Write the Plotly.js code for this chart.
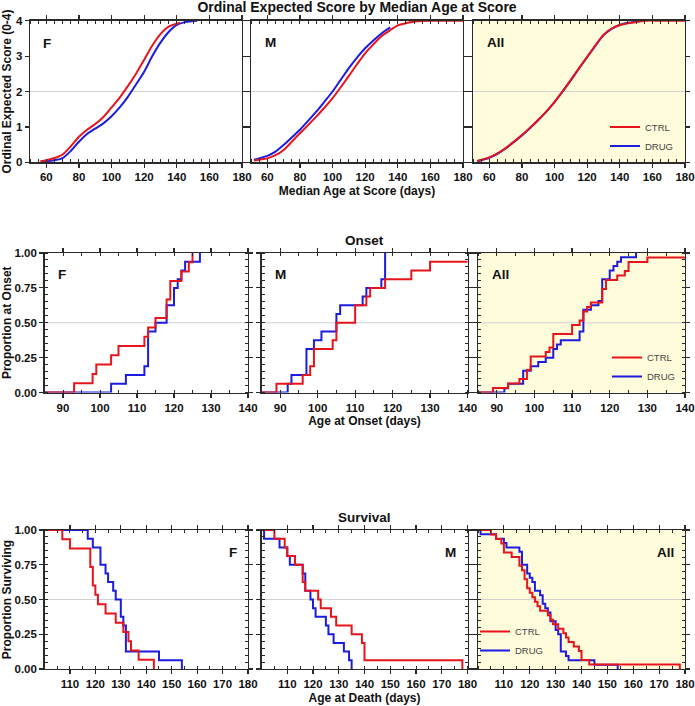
<!DOCTYPE html>
<html><head><meta charset="utf-8">
<script src="https://cdn.plot.ly/plotly-3.0.1.min.js"></script>
<style>html,body{margin:0;padding:0;background:#fff}#chart{width:695px;height:706px}</style>
</head><body><div id="chart"></div>
<script>
// ---------------- data ----------------
const groups = ['CTRL', 'DRUG'];
const panels = ['F', 'M', 'All'];

// Row 1: ordinal expected score vs median age at score (smooth curves)
const scoreAgeF_CTRL = [56.5,60,65,70,75,80,85,90,95,100,105,110,115,120,125,130,135,142];
const scoreF_CTRL    = [0.03,0.06,0.12,0.22,0.45,0.72,0.92,1.08,1.28,1.55,1.83,2.15,2.5,2.9,3.3,3.62,3.83,3.94];
const scoreAgeF_DRUG = [56.5,60,65,70,75,80,85,90,95,100,105,110,115,120,125,130,135,140,145,152.5];
const scoreF_DRUG    = [0.02,0.03,0.06,0.12,0.32,0.58,0.8,0.95,1.1,1.3,1.55,1.85,2.2,2.56,3.0,3.38,3.68,3.88,3.96,4.0];
const scoreAgeM_CTRL = [51.8,55,60,65,70,75,80,85,90,95,100,105,110,115,120,125,130,135,140,145,150,155,160,170,180];
const scoreM_CTRL    = [0.05,0.07,0.11,0.2,0.35,0.58,0.82,1.05,1.29,1.54,1.81,2.12,2.44,2.77,3.08,3.33,3.56,3.72,3.87,3.93,3.97,3.99,4.0,4.0,4.0];
const scoreAgeM_DRUG = [51.8,55,60,65,70,75,80,85,90,95,100,105,110,115,120,125,130,135.4];
const scoreM_DRUG    = [0.07,0.11,0.18,0.3,0.49,0.7,0.92,1.17,1.43,1.71,2.0,2.33,2.66,2.96,3.22,3.44,3.64,3.81];
const scoreAgeAll_CTRL = [52.5,55,60,65,70,75,80,85,90,95,100,105,110,115,120,125,130,135,140,145,150,156,165,180];
const scoreAll_CTRL    = [0.04,0.07,0.14,0.25,0.4,0.58,0.77,0.98,1.2,1.44,1.71,2.01,2.33,2.66,2.98,3.3,3.6,3.78,3.88,3.93,3.96,4.0,4.0,4.0];
const scoreAgeAll_DRUG = [52.5,55,60,65,70,75,80,85,90,95,100,105,110,115,120,125,130,135,140,145,152];
const scoreAll_DRUG    = [0.03,0.06,0.13,0.24,0.39,0.57,0.76,0.97,1.19,1.43,1.70,2.00,2.32,2.65,2.97,3.29,3.59,3.77,3.88,3.94,3.98];

// Row 2: age at onset (days), one value per animal
const onsetF_CTRL = [93,98,99,103,105,112,113,115,118,118,119,119,122,124,125];
const onsetF_DRUG = [103,107,112,113,113,113,113,115,118,118,120,120,121,122,123,127];
const onsetM_CTRL = [89,96,98,99,99,104,105,105,110,110,113,114,118,125,130,150];
const onsetM_DRUG = [92,93,97,97,97,99,101,105,105,106,112,113,117,118,118,118];

// Row 3: age at death (days), one value per animal
const deathF_CTRL = [107,110,118,118,119,119,120,121,124,128,131,133,134,137,143];
const deathF_DRUG = [117,119,122,122,124,125,127,128,130,130,131,132,132,132,145,154];
const deathM_CTRL = [105,109,110,113,116,116,117,122,123,127,129,135,139,140,140,178];
const deathM_DRUG = [101,107,110,111,116,117,117,119,120,121,125,126,128,132,134,135];

// tick labels
const scoreXTicks = [60,80,100,120,140,160,180];
const scoreYTicks = [0,1,2,3,4];
const onsetXTicks = [90,100,110,120,130,140];
const deathXTicks = [110,120,130,140,150,160,170,180];
const propYTicks  = [0,0.25,0.5,0.75,1];

// ---------------- helpers ----------------
const W = 695, H = 706;
const fx = p => p / W;
const fy = p => 1 - p / H;
const FONT = 'Liberation Sans, Arial, Helvetica, sans-serif';
const RED = '#E8141C', BLUE = '#1C1CE0';
const YELLOW = '#FFFCDC';
const AXC = '#2a2a2a';

function cumSteps(times, x0, surv) {
  const t = times.slice().sort((a, b) => a - b);
  const n = t.length;
  const xs = [x0], ys = [surv ? 1 : 0];
  let cum = 0;
  for (let i = 0; i < n; i++) {
    cum++;
    if (i + 1 < n && t[i + 1] === t[i]) continue;
    xs.push(t[i]);
    ys.push(surv ? 1 - cum / n : cum / n);
  }
  return {x: xs, y: ys};
}

const traces = [];
function addPair(ctrl, drug, xa, ya, legendId, shape) {
  const common = {type: 'scatter', mode: 'lines', xaxis: xa, yaxis: ya, hoverinfo: 'skip'};
  const show = !!legendId;
  traces.push(Object.assign({}, common, {x: drug.x, y: drug.y, name: groups[1],
    line: {color: BLUE, width: 2, shape: shape, smoothing: 0.8}, showlegend: show,
    legend: legendId || 'legend', legendrank: 2}));
  traces.push(Object.assign({}, common, {x: ctrl.x, y: ctrl.y, name: groups[0],
    line: {color: RED, width: 2, shape: shape, smoothing: 0.8}, showlegend: show,
    legend: legendId || 'legend', legendrank: 1}));
}

// Row 1
addPair({x: scoreAgeF_CTRL, y: scoreF_CTRL}, {x: scoreAgeF_DRUG, y: scoreF_DRUG}, 'x', 'y', null, 'spline');
addPair({x: scoreAgeM_CTRL, y: scoreM_CTRL}, {x: scoreAgeM_DRUG, y: scoreM_DRUG}, 'x2', 'y2', null, 'spline');
addPair({x: scoreAgeAll_CTRL, y: scoreAll_CTRL}, {x: scoreAgeAll_DRUG, y: scoreAll_DRUG}, 'x3', 'y3', 'legend', 'spline');
// Row 2
addPair(cumSteps(onsetF_CTRL, 85, false), cumSteps(onsetF_DRUG, 85, false), 'x4', 'y4', null, 'hv');
addPair(cumSteps(onsetM_CTRL, 85, false), cumSteps(onsetM_DRUG, 85, false), 'x5', 'y5', null, 'hv');
addPair(cumSteps(onsetF_CTRL.concat(onsetM_CTRL), 85, false), cumSteps(onsetF_DRUG.concat(onsetM_DRUG), 85, false), 'x6', 'y6', 'legend2', 'hv');
// Row 3
addPair(cumSteps(deathF_CTRL, 100, true), cumSteps(deathF_DRUG, 100, true), 'x7', 'y7', null, 'hv');
addPair(cumSteps(deathM_CTRL, 100, true), cumSteps(deathM_DRUG, 100, true), 'x8', 'y8', null, 'hv');
addPair(cumSteps(deathF_CTRL.concat(deathM_CTRL), 100, true), cumSteps(deathF_DRUG.concat(deathM_DRUG), 100, true), 'x9', 'y9', 'legend3', 'hv');

// ---------------- layout ----------------
const tickFont = {family: FONT, size: 11.5, color: '#111', weight: 'bold'};
const titleFont = {family: FONT, size: 12, color: '#111', weight: 'bold'};

function axis(dom, range, tickvals, minorDtick, minorTick0, extra) {
  const a = {
    domain: dom, range: range, showline: true, linecolor: AXC, linewidth: 1.3, mirror: 'ticks',
    ticks: 'outside', ticklen: 4, tickwidth: 1.2, tickcolor: AXC, tickfont: tickFont,
    showgrid: false, zeroline: false, fixedrange: true, tickmode: 'array', tickvals: tickvals
  };
  if (minorDtick) a.minor = {ticks: 'inside', ticklen: 3, tickwidth: 1, tickcolor: AXC,
    tickmode: 'linear', tick0: minorTick0, dtick: minorDtick, showgrid: false};
  return Object.assign(a, extra || {});
}

const r1cols = [[30, 242], [251, 463], [473, 685]];
const r23cols = [[44.5, 248], [261.5, 467.5], [478, 685]];
const rowsY = [[20.7, 162.3], [253, 392.5], [530, 669]];
const dx = c => [fx(c[0]), fx(c[1])];
const dy = r => [fy(r[1]), fy(r[0])];

const layout = {
  width: W, height: H, margin: {l: 0, r: 0, t: 0, b: 0},
  paper_bgcolor: '#fff', plot_bgcolor: 'rgba(0,0,0,0)',
  font: {family: FONT, color: '#111'},
  title: {text: 'Ordinal Expected Score by Median Age at Score', x: fx(357), xanchor: 'center',
    y: fy(7), yanchor: 'middle', font: {family: FONT, size: 14, color: '#111', weight: 'bold'}},
  showlegend: true,
  shapes: [], annotations: []
};

const rowDefs = [
  {cols: r1cols, xr: [50, 180], xt: scoreXTicks, xm: 5, xm0: 0, yr: [0, 4], yt: scoreYTicks, ym: null,
   xtitle: 'Median Age at Score (days)', ytitle: 'Ordinal Expected Score (0-4)', ref: 2, yfmt: ''},
  {cols: r23cols, xr: [85, 140], xt: onsetXTicks, xm: 5, xm0: 0, yr: [0, 1], yt: propYTicks, ym: 0.05,
   xtitle: 'Age at Onset (days)', ytitle: 'Proportion at Onset', ref: 0.5, yfmt: '.2f'},
  {cols: r23cols, xr: [100, 180], xt: deathXTicks, xm: 5, xm0: 0, yr: [0, 1], yt: propYTicks, ym: 0.05,
   xtitle: 'Age at Death (days)', ytitle: 'Proportion Surviving', ref: 0.5, yfmt: '.2f'}
];

rowDefs.forEach((rd, ri) => {
  rd.cols.forEach((c, ci) => {
    const k = ri * 3 + ci + 1;
    const xn = 'xaxis' + (k === 1 ? '' : k), yn = 'yaxis' + (k === 1 ? '' : k);
    const xid = 'x' + (k === 1 ? '' : k), yid = 'y' + (k === 1 ? '' : k);
    const xa = axis(dx(c), rd.xr, rd.xt, rd.xm, rd.xm0, {anchor: yid});
    if (ci === 1) xa.title = {text: rd.xtitle, font: titleFont, standoff: 4};
    const ya = axis(dy(rowsY[ri]), rd.yr, rd.yt, rd.ym, 0, {anchor: xid, tickformat: rd.yfmt,
      showticklabels: ci === 0});
    if (ci === 0) ya.title = {text: rd.ytitle, font: titleFont, standoff: ri === 0 ? 8 : 2};
    layout[xn] = xa; layout[yn] = ya;
    if (ci === 2) layout.shapes.push({type: 'rect', xref: xid + ' domain', yref: yid + ' domain',
      x0: 0, x1: 1, y0: 0, y1: 1, fillcolor: YELLOW, line: {width: 0}, layer: 'below'});
    layout.shapes.push({type: 'line', xref: xid + ' domain', yref: yid, x0: 0, x1: 1,
      y0: rd.ref, y1: rd.ref, line: {color: '#d2d2d2', width: 1}, layer: 'below'});
  });
});

// panel labels
const letterFont = {family: FONT, size: 13.5, color: '#111', weight: 'bold'};
const letterPos = [
  [47, 43], [270, 42], [495, 42],
  [62, 275], [280, 274], [500, 275],
  [233, 552], [450, 552], [665, 552]
];
letterPos.forEach((p, i) => {
  layout.annotations.push({text: panels[i % 3], x: fx(p[0]), y: fy(p[1]), xref: 'paper', yref: 'paper',
    xanchor: 'center', yanchor: 'middle', showarrow: false, font: letterFont});
});
// row titles
const rowTitleFont = {family: FONT, size: 13.5, color: '#111', weight: 'bold'};
layout.annotations.push({text: 'Onset', x: fx(365), y: fy(240), xref: 'paper', yref: 'paper',
  xanchor: 'center', yanchor: 'middle', showarrow: false, font: rowTitleFont});
layout.annotations.push({text: 'Survival', x: fx(365), y: fy(517), xref: 'paper', yref: 'paper',
  xanchor: 'center', yanchor: 'middle', showarrow: false, font: rowTitleFont});

// legends
const legFont = {family: FONT, size: 9.5, color: '#444'};
function leg(xp, yp) {
  return {x: fx(xp), y: fy(yp), xanchor: 'left', yanchor: 'top', bgcolor: 'rgba(0,0,0,0)',
    borderwidth: 0, font: legFont, tracegroupgap: 0, itemwidth: 30, traceorder: 'normal'};
}
layout.legend = leg(605, 112.5);
layout.legend2 = leg(607, 343);
layout.legend3 = leg(475, 617);

Plotly.newPlot('chart', traces, layout, {staticPlot: true, displayModeBar: false});
</script></body></html>
